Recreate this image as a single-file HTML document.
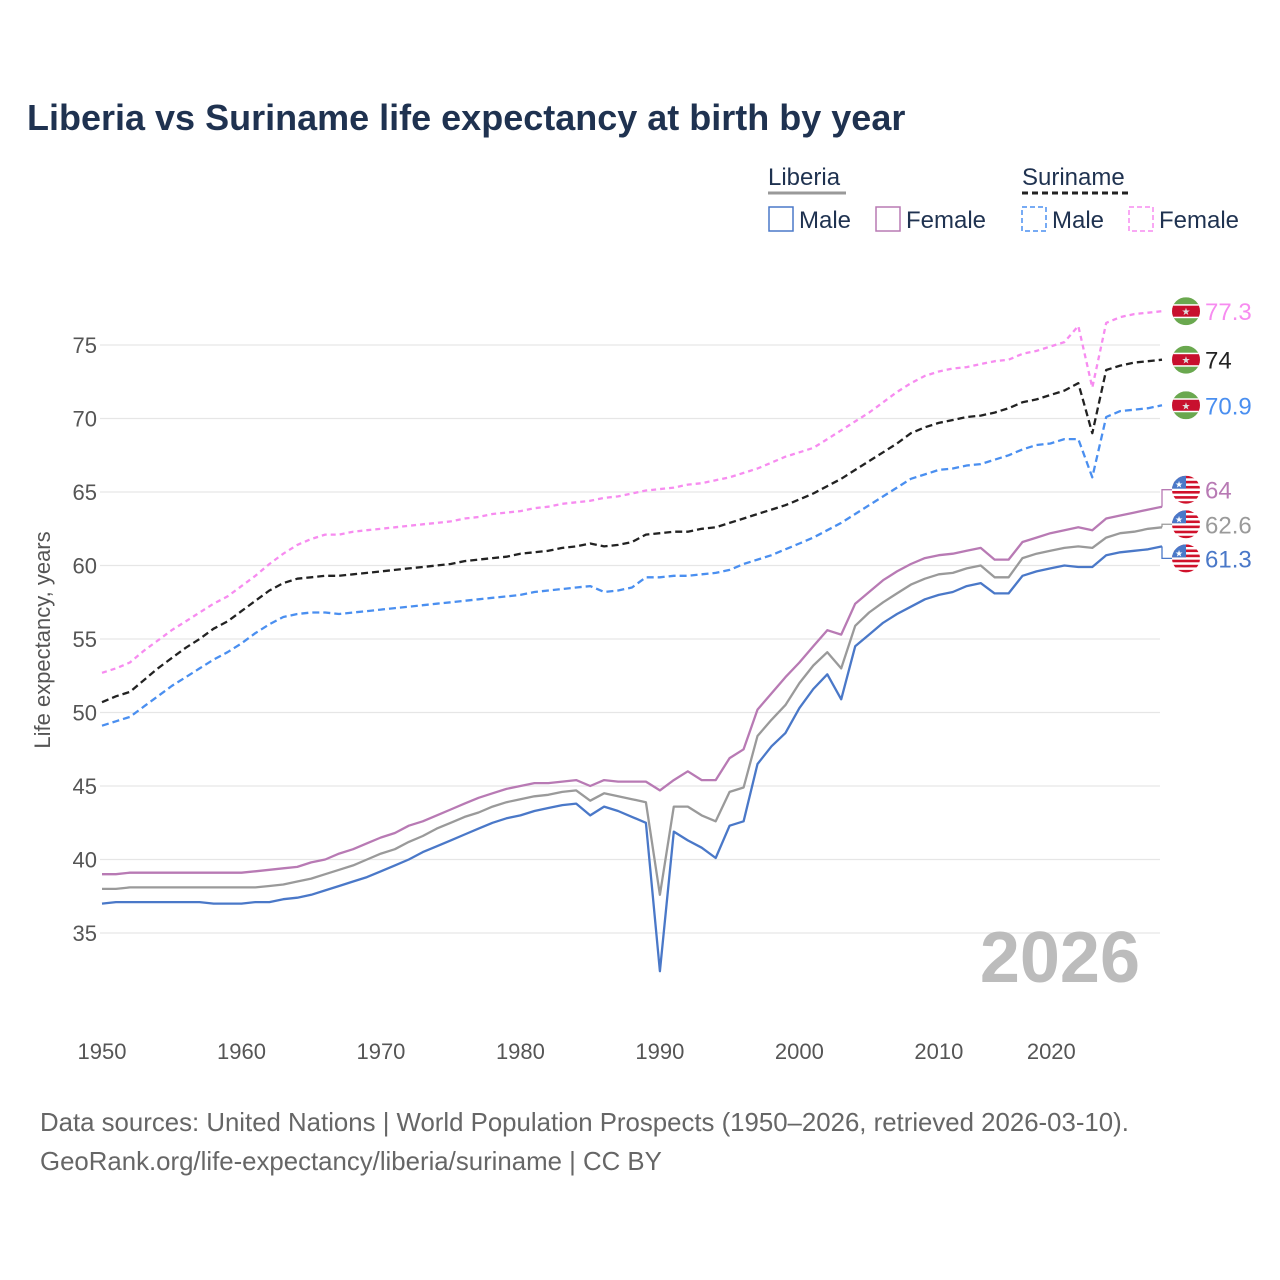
<!DOCTYPE html>
<html><head><meta charset="utf-8"><style>
body{margin:0;background:#fff;font-family:"Liberation Sans",sans-serif;}
#wrap{position:relative;width:1280px;height:1280px;overflow:hidden;}
</style></head><body>
<div id="wrap">
<svg id="chart" width="1280" height="1280" font-family="Liberation Sans, sans-serif">
<text x="27" y="130" font-size="36" font-weight="bold" fill="#1f3250">Liberia vs Suriname life expectancy at birth by year</text>
<g font-size="24" fill="#1f3250">
<text x="768" y="185">Liberia</text>
<line x1="768" y1="193" x2="846" y2="193" stroke="#999" stroke-width="3"/>
<text x="1022" y="185">Suriname</text>
<line x1="1022" y1="193" x2="1130" y2="193" stroke="#222" stroke-width="3" stroke-dasharray="6,4"/>
<g><rect x="769" y="207" width="24" height="24" fill="none" stroke="#4a78c8" stroke-width="1.5"/><text x="799" y="228">Male</text></g>
<g><rect x="876" y="207" width="24" height="24" fill="none" stroke="#b87ab4" stroke-width="1.5"/><text x="906" y="228">Female</text></g>
<g><rect x="1022" y="207" width="24" height="24" fill="none" stroke="#4a8ff0" stroke-width="1.5" stroke-dasharray="5,3"/><text x="1052" y="228">Male</text></g>
<g><rect x="1129" y="207" width="24" height="24" fill="none" stroke="#f78cf0" stroke-width="1.5" stroke-dasharray="5,3"/><text x="1159" y="228">Female</text></g>
</g>
<g id="grid"></g>
<g id="series"></g>
<g id="ends"></g>
<text x="1140" y="982" font-size="72" font-weight="bold" fill="#bcbcbc" text-anchor="end">2026</text>
<text transform="translate(50,640) rotate(-90)" font-size="22" fill="#555" text-anchor="middle">Life expectancy, years</text>
<text x="40" y="1131" font-size="25.8" fill="#666">Data sources: United Nations | World Population Prospects (1950–2026, retrieved 2026-03-10).</text>
<text x="40" y="1170" font-size="25.8" fill="#666">GeoRank.org/life-expectancy/liberia/suriname | CC BY</text>
</svg>
</div>
<script>
const years=[];for(let y=1950;y<=2026;y++)years.push(y);
const yTicks=[35,40,45,50,55,60,65,70,75];
const xTicks=[1950,1960,1970,1980,1990,2000,2010,2020];
const liberiaMale=[37.0,37.1,37.1,37.1,37.1,37.1,37.1,37.1,37.0,37.0,37.0,37.1,37.1,37.3,37.4,37.6,37.9,38.2,38.5,38.8,39.2,39.6,40.0,40.5,40.9,41.3,41.7,42.1,42.5,42.8,43.0,43.3,43.5,43.7,43.8,43.0,43.6,43.3,42.9,42.5,32.4,41.9,41.3,40.8,40.1,42.3,42.6,46.5,47.7,48.6,50.3,51.6,52.6,50.9,54.5,55.3,56.1,56.7,57.2,57.7,58.0,58.2,58.6,58.8,58.1,58.1,59.3,59.6,59.8,60.0,59.9,59.9,60.7,60.9,61.0,61.1,61.3];
const liberiaTotal=[38.0,38.0,38.1,38.1,38.1,38.1,38.1,38.1,38.1,38.1,38.1,38.1,38.2,38.3,38.5,38.7,39.0,39.3,39.6,40.0,40.4,40.7,41.2,41.6,42.1,42.5,42.9,43.2,43.6,43.9,44.1,44.3,44.4,44.6,44.7,44.0,44.5,44.3,44.1,43.9,37.6,43.6,43.6,43.0,42.6,44.6,44.9,48.4,49.5,50.5,52.0,53.2,54.1,53.0,55.9,56.8,57.5,58.1,58.7,59.1,59.4,59.5,59.8,60.0,59.2,59.2,60.5,60.8,61.0,61.2,61.3,61.2,61.9,62.2,62.3,62.5,62.6];
const liberiaFemale=[39.0,39.0,39.1,39.1,39.1,39.1,39.1,39.1,39.1,39.1,39.1,39.2,39.3,39.4,39.5,39.8,40.0,40.4,40.7,41.1,41.5,41.8,42.3,42.6,43.0,43.4,43.8,44.2,44.5,44.8,45.0,45.2,45.2,45.3,45.4,45.0,45.4,45.3,45.3,45.3,44.7,45.4,46.0,45.4,45.4,46.9,47.5,50.2,51.3,52.4,53.4,54.5,55.6,55.3,57.4,58.2,59.0,59.6,60.1,60.5,60.7,60.8,61.0,61.2,60.4,60.4,61.6,61.9,62.2,62.4,62.6,62.4,63.2,63.4,63.6,63.8,64.0];
const surinameTotal=[50.7,51.1,51.4,52.2,53.0,53.7,54.4,55.0,55.7,56.2,56.9,57.6,58.3,58.8,59.1,59.2,59.3,59.3,59.4,59.5,59.6,59.7,59.8,59.9,60.0,60.1,60.3,60.4,60.5,60.6,60.8,60.9,61.0,61.2,61.3,61.5,61.3,61.4,61.6,62.1,62.2,62.3,62.3,62.5,62.6,62.9,63.2,63.5,63.8,64.1,64.5,64.9,65.4,65.9,66.5,67.1,67.7,68.3,69.0,69.4,69.7,69.9,70.1,70.2,70.4,70.7,71.1,71.3,71.6,71.9,72.4,69.0,73.3,73.6,73.8,73.9,74.0];
const surinameMale=[49.1,49.4,49.7,50.4,51.1,51.8,52.4,53.0,53.6,54.1,54.7,55.4,56.0,56.5,56.7,56.8,56.8,56.7,56.8,56.9,57.0,57.1,57.2,57.3,57.4,57.5,57.6,57.7,57.8,57.9,58.0,58.2,58.3,58.4,58.5,58.6,58.2,58.3,58.5,59.2,59.2,59.3,59.3,59.4,59.5,59.7,60.1,60.4,60.7,61.1,61.5,61.9,62.4,62.9,63.5,64.1,64.7,65.3,65.9,66.2,66.5,66.6,66.8,66.9,67.2,67.5,67.9,68.2,68.3,68.6,68.6,66.0,70.1,70.5,70.6,70.7,70.9];
const surinameFemale=[52.7,53.0,53.4,54.2,54.9,55.6,56.2,56.8,57.4,57.9,58.6,59.3,60.1,60.8,61.4,61.8,62.1,62.1,62.3,62.4,62.5,62.6,62.7,62.8,62.9,63.0,63.2,63.3,63.5,63.6,63.7,63.9,64.0,64.2,64.3,64.4,64.6,64.7,64.9,65.1,65.2,65.3,65.5,65.6,65.8,66.0,66.3,66.6,67.0,67.4,67.7,68.0,68.6,69.2,69.8,70.4,71.1,71.8,72.4,72.9,73.2,73.4,73.5,73.7,73.9,74.0,74.4,74.6,74.9,75.2,76.3,72.1,76.5,76.9,77.1,77.2,77.3];

const NS="http://www.w3.org/2000/svg";
const X=y=>102+(y-1950)*(1060/76);
const Y=v=>345+(75-v)*14.7;
function mk(tag,attrs,parent){const e=document.createElementNS(NS,tag);for(const k in attrs)e.setAttribute(k,attrs[k]);parent.appendChild(e);return e;}
const grid=document.getElementById('grid');
yTicks.forEach(t=>{
 const l=mk('line',{x1:100,x2:1160,y1:Y(t),y2:Y(t),stroke:'#e6e6e6','stroke-width':1.2},grid);
 
 
 const tx=mk('text',{x:97,y:Y(t)+8,'font-size':22,fill:'#555','text-anchor':'end'},grid);
 tx.textContent=t;
 
 
});
xTicks.forEach(t=>{
 let x=X(t); if(t===2020)x-=27;
 const tx=mk('text',{x:x,y:1059,'font-size':22,fill:'#555','text-anchor':'middle'},grid);
 tx.textContent=t;
 
 
});
const ser=document.getElementById('series');
const defs=[
 ['suriname-female',surinameFemale,'#f78cf0','5,4'],
 ['suriname-total',surinameTotal,'#222','7,4'],
 ['suriname-male',surinameMale,'#4a8ff0','7,4'],
 ['liberia-female',liberiaFemale,'#b87ab4',null],
 ['liberia-total',liberiaTotal,'#9a9a9a',null],
 ['liberia-male',liberiaMale,'#4a78c8',null]];
defs.forEach(([n,d,c,da])=>{
 const pts=d.map((v,i)=>X(years[i]).toFixed(1)+','+Y(v).toFixed(1)).join(' ');
 const a={points:pts,fill:'none',stroke:c,'stroke-width':2.3,'stroke-linejoin':'round'};
 if(da)a['stroke-dasharray']=da;
 const p=mk('polyline',a,ser);
 
 
});
const ends=document.getElementById('ends');
const labels=[
 ['suriname-female',surinameFemale,'#f78cf0','77.3','sr',0],
 ['suriname-total',surinameTotal,'#222','74','sr',0],
 ['suriname-male',surinameMale,'#4a8ff0','70.9','sr',0],
 ['liberia-female',liberiaFemale,'#b87ab4','64','lr',-17],
 ['liberia-total',liberiaTotal,'#9a9a9a','62.6','lr',-3],
 ['liberia-male',liberiaMale,'#4a78c8','61.3','lr',12]];
labels.forEach(([n,d,c,txt,f,off])=>{
 const v=d[d.length-1],x=X(2026),y=Y(v),cy=y+off;
 if(off)mk('polyline',{points:`${x},${y} ${x},${cy} ${x+10},${cy}`,fill:'none',stroke:c,'stroke-width':1.3},ends);
 const g=mk('g',{},ends);
 
 
 const cx=1186,r=14;
 const cp='cp-'+n;
 const clip=mk('clipPath',{id:cp},g);mk('circle',{cx:cx,cy:cy,r:r},clip);
 const gg=mk('g',{'clip-path':`url(#${cp})`},g);
 if(f==='sr'){
  mk('rect',{x:cx-r,y:cy-r,width:2*r,height:2*r,fill:'#6aa84f'},gg);
  mk('rect',{x:cx-r,y:cy-7,width:2*r,height:14,fill:'#fff'},gg);
  mk('rect',{x:cx-r,y:cy-5.5,width:2*r,height:11,fill:'#c8102e'},gg);
  const st=mk('text',{x:cx,y:cy+4,'font-size':10,fill:'#ddd','text-anchor':'middle'},gg);st.textContent='★';
 }else{
  mk('rect',{x:cx-r,y:cy-r,width:2*r,height:2*r,fill:'#fff'},gg);
  for(let i=0;i<6;i++)mk('rect',{x:cx-r,y:cy-r+i*5.1,width:2*r,height:2.6,fill:'#d0112b'},gg);
  mk('rect',{x:cx-r,y:cy-r,width:14,height:13,fill:'#4a78c8'},gg);
  const st=mk('text',{x:cx-7,y:cy-2,'font-size':9,fill:'#fff','text-anchor':'middle'},gg);st.textContent='★';
 }
 const t=mk('text',{x:1205,y:cy+9,'font-size':24,fill:c},ends);
 t.textContent=txt;
 
 
});
</script>
</body></html>
